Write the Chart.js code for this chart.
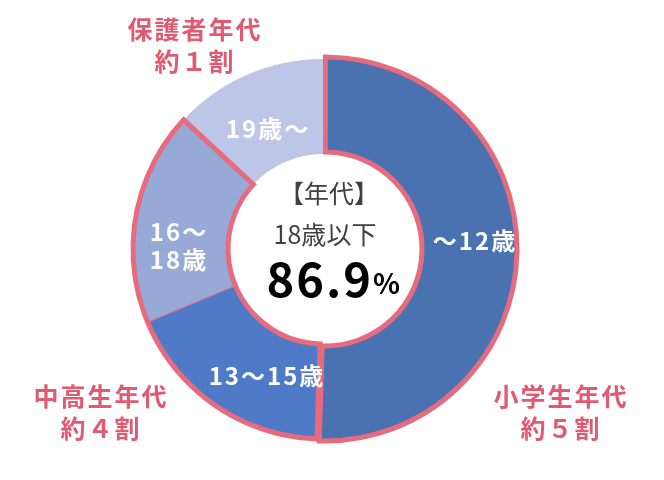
<!DOCTYPE html>
<html>
<head>
<meta charset="utf-8">
<script src="https://cdn.jsdelivr.net/npm/chart.js@4.4.1/dist/chart.umd.min.js"></script>
<style>
  html, body { margin: 0; padding: 0; background: #fff; }
  #wrap { width: 664px; height: 480px; }
</style>
</head>
<body>
<div id="wrap"><canvas id="chart"></canvas></div>
<script>
// slice data (clockwise from 12 o'clock)
const ageLabels = ['～12歳', '13～15歳', '16～\n18歳', '19歳～'];
const ageShares = [50.5, 18.2, 18.2, 13.1];
const sliceColors = ['#4A72B0', '#4E7AC7', '#97A9D6', '#BDC6E6'];

// outer group captions
const groupNames = ['小学生年代', '中高生年代', '保護者年代'];
const groupRatios = ['約５割', '約４割', '約１割'];

// centre text
const centerTitle = '【年代】';
const centerSub = '18歳以下';
const centerValue = '86.9';

const PINK = '#E66B7E';
const FONT = '"Noto Sans CJK JP", "Noto Sans", sans-serif';

// label placement relative to the ring centre
const sliceLabelPos = [[152, -8], [-56, 127], [-144, -3], [-55, -120]];
const groupLabelPos = [[238, 147], [-222, 147], [-128, -220]];

const outlinePlugin = {
  id: 'groupOutline',
  afterDatasetsDraw(chart) {
    const arcs = chart.getDatasetMeta(0).data;
    const a = arcs[1], b = arcs[2];
    const ctx = chart.ctx;
    ctx.save();
    ctx.beginPath();
    ctx.arc(a.x, a.y, a.outerRadius, a.startAngle, b.endAngle);
    ctx.arc(a.x, a.y, a.innerRadius, b.endAngle, a.startAngle, true);
    ctx.closePath();
    ctx.lineWidth = 5;
    ctx.lineJoin = 'miter';
    ctx.strokeStyle = PINK;
    ctx.stroke();
    ctx.restore();
  }
};

const textPlugin = {
  id: 'texts',
  afterDraw(chart) {
    const arc = chart.getDatasetMeta(0).data[1];
    const cx = arc.x, cy = arc.y;
    const ctx = chart.ctx;
    ctx.save();
    ctx.textAlign = 'center';
    ctx.textBaseline = 'middle';

    // slice labels
    ctx.fillStyle = '#fff';
    ctx.font = 'bold 24px ' + FONT;
    ctx.letterSpacing = '2px';
    ageLabels.forEach((lab, i) => {
      const lines = lab.split('\n');
      const [dx, dy] = sliceLabelPos[i];
      lines.forEach((ln, j) => {
        ctx.fillText(ln, cx + dx, cy + dy + (j - (lines.length - 1) / 2) * 28);
      });
    });

    // group captions
    ctx.fillStyle = '#E25A72';
    ctx.font = 'bold 25px ' + FONT;
    ctx.letterSpacing = '2px';
    groupNames.forEach((name, i) => {
      const [dx, dy] = groupLabelPos[i];
      ctx.fillText(name, cx + dx, cy + dy);
      ctx.fillText(groupRatios[i], cx + dx, cy + dy + 32);
    });

    // centre
    ctx.letterSpacing = '0px';
    ctx.fillStyle = '#404040';
    ctx.font = '25px ' + FONT;
    ctx.fillText(centerTitle, cx + 6, cy - 56);
    ctx.fillText(centerSub, cx + 2, cy - 15);
    ctx.fillStyle = '#000';
    ctx.font = 'bold 47px ' + FONT;
    ctx.letterSpacing = '2px';
    ctx.textAlign = 'right';
    ctx.fillText(centerValue, cx + 50, cy + 30);
    ctx.letterSpacing = '0px';
    ctx.textAlign = 'left';
    ctx.font = 'bold 28px ' + FONT;
    ctx.fillText('%', cx + 50, cy + 34);
    ctx.restore();
  }
};

new Chart(document.getElementById('chart'), {
  type: 'doughnut',
  data: {
    labels: ageLabels,
    datasets: [{
      data: ageShares,
      backgroundColor: sliceColors,
      borderColor: PINK,
      borderWidth: [5, 1, 1, 0],
      borderJoinStyle: 'miter',
      offset: [8, 0, 0, 0],
      hoverOffset: 0
    }]
  },
  options: {
    responsive: true,
    maintainAspectRatio: false,
    animation: false,
    radius: 190,
    cutout: '50%',
    layout: { padding: { left: 0, right: 18, top: 18, bottom: 0 } },
    plugins: {
      legend: { display: false },
      tooltip: { enabled: false }
    }
  },
  plugins: [outlinePlugin, textPlugin]
});
</script>
</body>
</html>
